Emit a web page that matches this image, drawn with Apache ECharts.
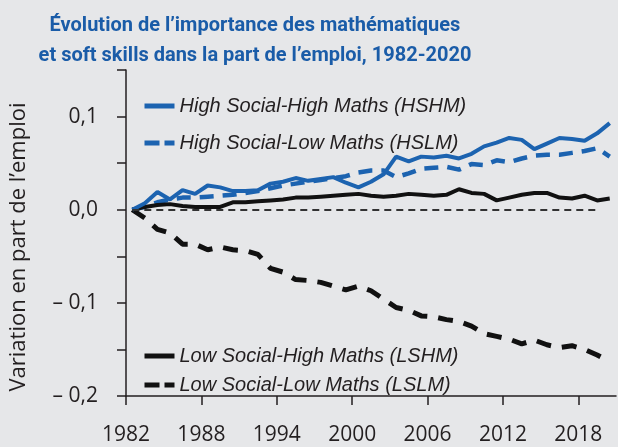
<!DOCTYPE html>
<html><head><meta charset="utf-8">
<script src="https://cdn.jsdelivr.net/npm/echarts@6/dist/echarts.min.js"></script>
<style>html,body{margin:0;padding:0;background:#e6e7e9}#c{width:618px;height:447px}</style>
</head><body><div id="c"></div><script>
const years = ['1982','1983','1984','1985','1986','1987','1988','1989','1990','1991','1992','1993','1994','1995','1996','1997','1998','1999','2000','2001','2002','2003','2004','2005','2006','2007','2008','2009','2010','2011','2012','2013','2014','2015','2016','2017','2018','2019','2020'];
const xTickLabels = [1982,1988,1994,2000,2006,2012,2018];
const yTickLabels = [-0.2,-0.1,0,0.1];
const yTicks = [-0.2,-0.15,-0.1,-0.05,0,0.05,0.1,0.15];
const hshm = [0,0.007,0.019,0.011,0.021,0.017,0.026,0.024,0.020,0.020,0.021,0.028,0.030,0.034,0.031,0.033,0.035,0.029,0.024,0.030,0.038,0.057,0.052,0.057,0.056,0.058,0.055,0.060,0.068,0.072,0.077,0.075,0.065,0.071,0.077,0.076,0.074,0.082,0.093];
const hslm = [0,0.003,0.008,0.011,0.013,0.013,0.014,0.015,0.016,0.018,0.020,0.023,0.026,0.028,0.030,0.032,0.034,0.036,0.040,0.042,0.042,0.035,0.039,0.044,0.045,0.046,0.043,0.049,0.048,0.053,0.051,0.055,0.058,0.059,0.059,0.061,0.063,0.066,0.057];
const lshm = [0,0.003,0.005,0.006,0.004,0.003,0.003,0.003,0.008,0.008,0.009,0.010,0.011,0.013,0.013,0.014,0.015,0.016,0.017,0.015,0.014,0.015,0.017,0.016,0.015,0.016,0.022,0.018,0.017,0.010,0.013,0.016,0.018,0.018,0.013,0.012,0.015,0.010,0.012];
const lslm = [0,-0.009,-0.021,-0.025,-0.037,-0.037,-0.043,-0.040,-0.043,-0.044,-0.048,-0.063,-0.067,-0.075,-0.076,-0.078,-0.082,-0.086,-0.082,-0.087,-0.096,-0.105,-0.108,-0.114,-0.115,-0.118,-0.120,-0.125,-0.133,-0.136,-0.139,-0.144,-0.140,-0.145,-0.148,-0.146,-0.150,-0.156,-0.163];
const names = ['High Social-High Maths (HSHM)','High Social-Low Maths (HSLM)','Low Social-High Maths (LSHM)','Low Social-Low Maths (LSLM)'];

const BLUE = '#1c63b0', BLACK = '#111111', TXT = '#231f20';
const fmtY = v => (v < 0 ? '\u2013 ' : '') + Math.abs(v).toFixed(1).replace('.', ',');
const legendText = {fontSize: 20, fontStyle: 'italic', color: TXT, fontFamily: 'Liberation Sans', lineHeight: 22};
const legendBase = {orient: 'vertical', left: 137, itemWidth: 30, itemHeight: 14, textStyle: legendText,
  itemStyle: {color: 'rgba(0,0,0,0)', borderWidth: 0}};
const solidIcon = {width: 5, type: 'solid'};
const dashIcon = {width: 5, type: [15, 5]};

const chart = echarts.init(document.getElementById('c'), null, {renderer: 'canvas'});
chart.setOption({
  backgroundColor: '#e6e7e9',
  animation: false,
  title: {
    text: '\u00c9volution de l\u2019importance des math\u00e9matiques\net soft skills dans la part de l\u2019emploi, 1982-2020',
    left: 250, top: 6, textAlign: 'center',
    textStyle: {fontFamily: 'Liberation Sans Narrow, Roboto, sans-serif', fontWeight: 'bold', fontSize: 20, color: '#1a5ca8', lineHeight: 30}
  },
  grid: {left: 123, right: 2, top: 70, bottom: 51},
  legend: [
    Object.assign({}, legendBase, {top: 90, itemGap: 15,
      data: [{name: names[0], lineStyle: solidIcon}, {name: names[1], lineStyle: dashIcon}]}),
    Object.assign({}, legendBase, {top: 340, itemGap: 7,
      data: [{name: names[2], lineStyle: solidIcon}, {name: names[3], lineStyle: dashIcon}]})
  ],
  xAxis: [
    {type: 'category', data: years, boundaryGap: true, show: false},
    {type: 'value', min: 1982, max: 2021, position: 'bottom',
     axisLine: {lineStyle: {color: TXT, width: 1.5}},
     axisTick: {show: true, length: 9, lineStyle: {color: TXT, width: 1.5}, customValues: xTickLabels},
     axisLabel: {margin: 29, fontSize: 21, color: TXT, fontFamily: 'Open Sans', customValues: xTickLabels, formatter: v => String(v)},
     splitLine: {show: false}}
  ],
  yAxis: {
    type: 'value', min: -0.2, max: 0.15,
    name: 'Variation en part de l\u2019emploi', nameLocation: 'middle', nameGap: 96,
    nameTextStyle: {fontSize: 22, color: TXT, fontFamily: 'Open Sans', padding: [0, 28, 0, 0]},
    axisLine: {show: true, lineStyle: {color: TXT, width: 1.5}},
    axisTick: {show: true, length: 9, lineStyle: {color: TXT, width: 1.5}, customValues: yTicks},
    axisLabel: {margin: 28, fontSize: 21, color: TXT, fontFamily: 'Open Sans', customValues: yTickLabels, formatter: fmtY},
    splitLine: {show: false}
  },
  series: [
    {name: names[0], type: 'line', data: hshm, symbol: 'none', lineStyle: {color: BLUE, width: 4}, itemStyle: {color: BLUE}, z: 4},
    {name: names[1], type: 'line', data: hslm, symbol: 'none', lineStyle: {color: BLUE, width: 4.5, type: [14, 9]}, itemStyle: {color: BLUE}, z: 3},
    {name: names[2], type: 'line', data: lshm, symbol: 'none', lineStyle: {color: BLACK, width: 4}, itemStyle: {color: BLACK}, z: 3,
     markLine: {silent: true, symbol: 'none', label: {show: false},
       lineStyle: {color: '#333333', width: 2, type: [7, 5]},
       data: [[{coord: ['1982', 0]}, {coord: ['2019', 0]}]]}},
    {name: names[3], type: 'line', data: lslm, symbol: 'none', lineStyle: {color: BLACK, width: 5, type: [15, 11]}, itemStyle: {color: BLACK}, z: 3}
  ]
});
</script></body></html>
